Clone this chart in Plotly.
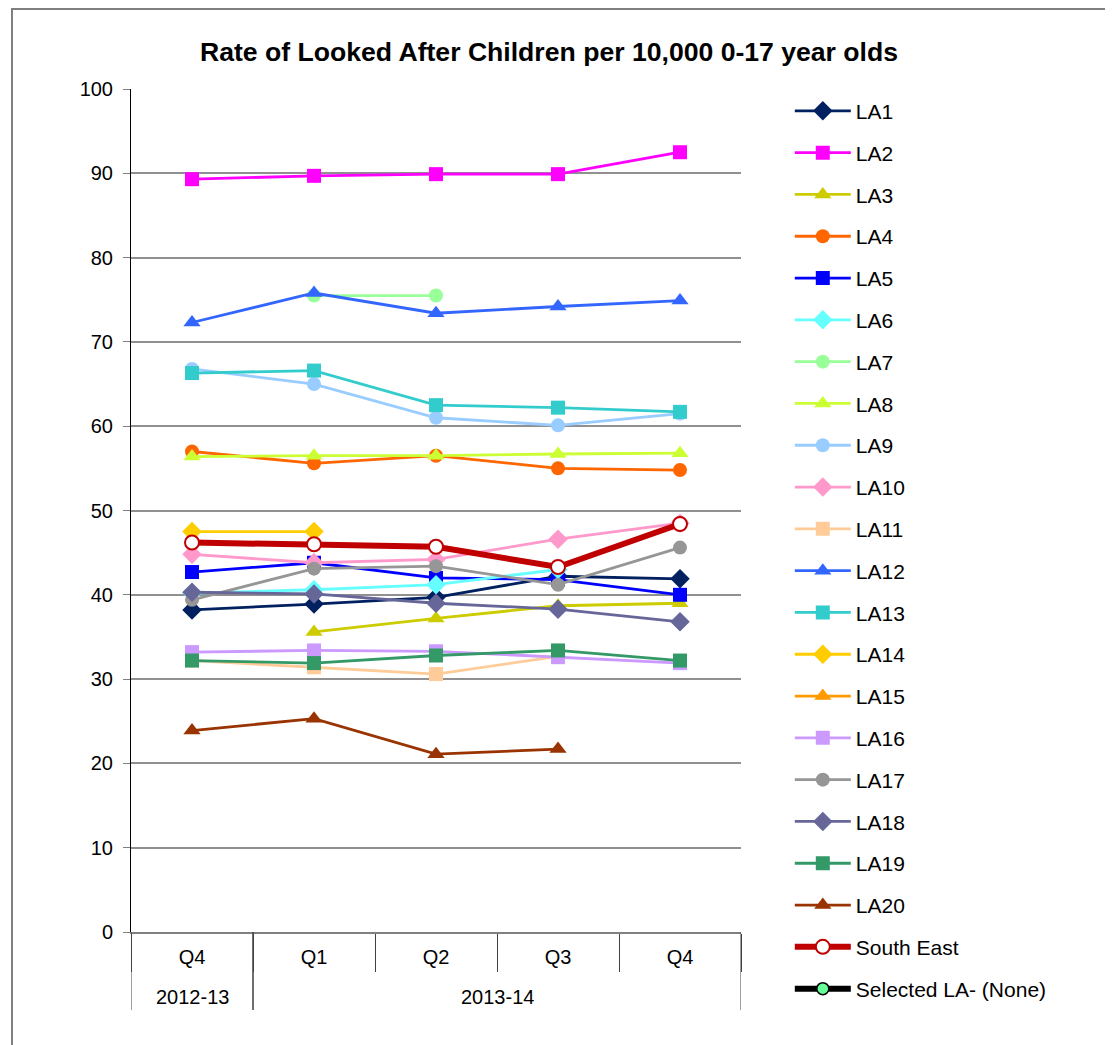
import itertools
import plotly.graph_objects as go

years = ["2012-13", "2013-14", "2013-14", "2013-14", "2013-14"]
quarters = ["Q4", "Q1", "Q2", "Q3", "Q4"]

series_names = ["LA1", "LA2", "LA3", "LA4", "LA5", "LA6", "LA7", "LA8", "LA9", "LA10",
                "LA11", "LA12", "LA13", "LA14", "LA15", "LA16", "LA17", "LA18", "LA19", "LA20",
                "South East", "Selected LA- (None)"]

LA1 = [38.2, 38.9, 39.7, 42.2, 41.9]
LA2 = [89.3, 89.7, 89.9, 89.9, 92.5]
LA3 = [None, 35.6, 37.2, 38.7, 39.0]
LA4 = [57.0, 55.6, 56.5, 55.0, 54.8]
LA5 = [42.7, 43.8, 42.0, 41.8, 40.0]
LA6 = [40.2, 40.6, 41.2, 43.0, None]
LA7 = [None, 75.5, 75.5, None, None]
LA8 = [56.4, 56.5, 56.5, 56.7, 56.8]
LA9 = [66.8, 65.0, 61.0, 60.1, 61.5]
LA10 = [44.8, 43.8, 44.2, 46.6, 48.5]
LA11 = [32.2, 31.4, 30.6, 32.7, None]
LA12 = [72.3, 75.8, 73.4, 74.2, 74.9]
LA13 = [66.3, 66.6, 62.5, 62.2, 61.7]
LA14 = [47.5, 47.5, None, None, None]
LA15 = [None, None, None, None, None]
LA16 = [33.2, 33.4, 33.3, 32.6, 31.9]
LA17 = [39.4, 43.1, 43.4, 41.2, 45.6]
LA18 = [40.3, 40.1, 39.0, 38.3, 36.8]
LA19 = [32.2, 31.9, 32.8, 33.4, 32.2]
LA20 = [23.9, 25.3, 21.1, 21.7, None]
SOUTH_EAST = [46.2, 46.0, 45.7, 43.3, 48.4]
SELECTED_LA = [None, None, None, None, None]

values = [LA1, LA2, LA3, LA4, LA5, LA6, LA7, LA8, LA9, LA10, LA11, LA12, LA13, LA14,
          LA15, LA16, LA17, LA18, LA19, LA20, SOUTH_EAST, SELECTED_LA]

colors = ["#002060", "#FF00FF", "#CCCC00", "#FF6600", "#0000FF", "#66FFFF", "#99FF99",
          "#CCFF33", "#99CCFF", "#FF99CC", "#FFCC99", "#3366FF", "#33CCCC", "#FFCC00",
          "#FF9900", "#CC99FF", "#969696", "#666699", "#339966", "#993300", "#C00000", "#000000"]
symbols = ["diamond", "square", "triangle-up", "circle", "square", "diamond", "circle",
           "triangle-up", "circle", "diamond", "square", "triangle-up", "square", "diamond",
           "triangle-up", "square", "circle", "diamond", "square", "triangle-up", "circle", "circle"]

FONT = "Liberation Sans, Arial, sans-serif"

# figure geometry (px)
W, H = 1113, 1045
ML, MT, PW, PH = 123, 81, 610, 843
MR, MB = W - ML - PW, H - MT - PH

xpos = list(range(len(quarters)))

fig = go.Figure()
for name, ys, col, sym in zip(series_names, values, colors, symbols):
    if name == "South East":
        line = dict(color=col, width=6)
        marker = dict(symbol=sym, size=14, color="white", line=dict(color=col, width=2))
    elif name.startswith("Selected"):
        line = dict(color=col, width=6)
        marker = dict(symbol=sym, size=12, color="#66FF99", line=dict(color=col, width=1.5))
    else:
        line = dict(color=col, width=2.8)
        sz = 15 if sym in ("triangle-up", "diamond") else 14
        marker = dict(symbol=sym, size=sz, color=col)
    fig.add_trace(go.Scatter(
        x=xpos, y=ys, name=name, mode="lines+markers",
        line=line, marker=marker, legendgroup=name, connectgaps=False,
    ))

fig.update_layout(
    width=W, height=H,
    margin=dict(l=ML, r=MR, t=MT, b=MB),
    paper_bgcolor="white", plot_bgcolor="white",
    font=dict(family=FONT, size=20, color="black"),
    title=dict(text="<b>Rate of Looked After Children per 10,000 0-17 year olds</b>",
               x=541 / W, xanchor="center", y=1 - 44 / H, yanchor="middle",
               font=dict(family=FONT, size=26.6, color="black")),
    legend=dict(x=1.080, xanchor="left", y=0.998, yanchor="top",
                font=dict(family=FONT, size=21, color="black"),
                tracegroupgap=11.5, itemwidth=56, traceorder="grouped",
                maxheight=1000,
                bgcolor="rgba(0,0,0,0)"),
    showlegend=True,
)

fig.update_yaxes(range=[0, 100], dtick=10, tick0=0, showgrid=True, gridcolor="#909090",
                 gridwidth=2, zeroline=False, showline=True, linecolor="black", linewidth=1,
                 ticks="outside", ticklen=7, tickcolor="#808080", ticklabelstandoff=6,
                 tickfont=dict(family=FONT, size=20, color="black"))

bounds = [i - 0.5 for i in range(len(quarters) + 1)]
fig.update_xaxes(range=[bounds[0], bounds[-1]], tickmode="array", tickvals=xpos,
                 ticktext=quarters, ticks="", ticklabelstandoff=6,
                 showline=True, linecolor="#808080", linewidth=2, showgrid=False,
                 zeroline=False,
                 minor=dict(tickmode="array", tickvals=bounds, ticks="outside", ticklen=38,
                            tickcolor="#404040", tickwidth=1, showgrid=False),
                 tickfont=dict(family=FONT, size=20, color="black"))

# year group labels and dividers, derived from the years list
start = 0
div_y = -78 / PH
for yr, grp in itertools.groupby(years):
    n = len(list(grp))
    idx = xpos[start:start + n]
    fig.add_annotation(x=sum(idx) / n, y=-65 / PH, xref="x", yref="paper", text=yr,
                       showarrow=False, yanchor="middle",
                       font=dict(family=FONT, size=20, color="black"))
    for b in (bounds[start], bounds[start + n]):
        fig.add_shape(type="line", xref="x", yref="paper", x0=b, x1=b, y0=0, y1=div_y,
                      line=dict(color="#404040", width=1))
    start += n

fig.add_shape(type="rect", xref="paper", yref="paper",
              x0=(4 - ML) / PW, x1=(1102 - ML) / PW,
              y0=(MT + PH - 1070) / PH, y1=(MT + PH - 1) / PH,
              line=dict(color="#7f7f7f", width=2), fillcolor="rgba(0,0,0,0)", layer="below")

fig.write_html("out.html")
